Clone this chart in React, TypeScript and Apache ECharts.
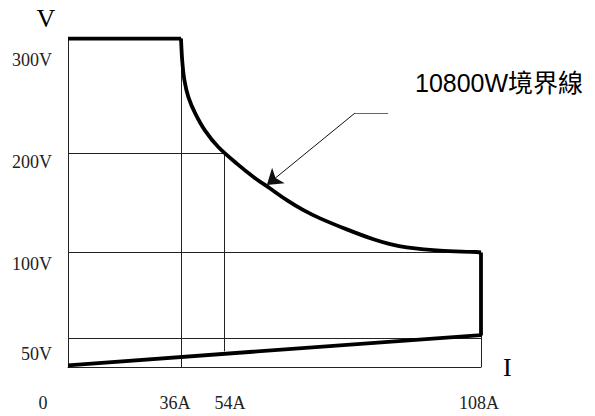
import { useEffect, useRef } from 'react';
import * as echarts from 'echarts';

// ---- tick labels ----
const xTickValues = [0, 36, 54, 108];
const xTickLabels = ['0', '36A', '54A', '108A'];
const yTickValues = [50, 100, 200, 300];
const yTickLabels = ['50V', '100V', '200V', '300V'];

// ---- boundary data (current A, voltage V) ----
const constVoltageI = [0, 36];
const constVoltageV = [300, 300];
const powerCurveI = [36, 36.5, 37.4, 39.1, 41.9, 46, 51.6, 56.7, 60.2, 63.7, 67.2, 70.7, 74.2, 79.8, 85.4, 88.9, 92.4, 99.4, 107.1, 108];
const powerCurveV = [300, 281, 264, 249, 235, 220, 205.5, 189.6, 176.2, 164.5, 152.8, 142.7, 134.4, 123.3, 113.3, 108.5, 105.2, 101.8, 100.5, 100];
const lowerBoundI = [108, 108, 0];
const lowerBoundV = [100, 52, 3];

// ---- thin reference lines (A, V) ----
const refLineI = [[0, 54], [0, 108], [0, 108], [36, 36], [54, 54], [108, 108]];
const refLineV = [[200, 200], [100, 100], [50, 50], [0, 300], [27.5, 200], [0, 52]];

// ---- annotation ----
const annotationText = '10800W境界線';
const leaderShelfI = [88.5, 81.5];
const leaderShelfV = [235, 235];
const leaderArrowI = [81.5, 63];
const leaderArrowV = [235, 168];

// schematic (non-uniform) scale of the drawing: value -> axis units
const xScaleKnots = [[0, 0], [36, 113], [54, 156], [108, 413]];
const yScaleKnots = [[0, 0], [50, 28.5], [100, 114.5], [200, 213.7], [300, 328.5]];

function interp(knots: number[][], v: number): number {
  for (let i = 0; i < knots.length - 1; i++) {
    const [a0, b0] = knots[i];
    const [a1, b1] = knots[i + 1];
    if (v <= a1 || i === knots.length - 2) {
      return b0 + ((v - a0) / (a1 - a0)) * (b1 - b0);
    }
  }
  return 0;
}
const sx = (a: number) => interp(xScaleKnots, a);
const sy = (v: number) => interp(yScaleKnots, v);
const pts = (I: number[], V: number[]) => I.map((a, i) => [sx(a), sy(V[i])]);

const SERIF = '"Liberation Serif", "Times New Roman", serif';
const labelColor = '#222';

export default function App() {
  const ref = useRef<HTMLDivElement>(null);
  useEffect(() => {
    if (!ref.current) return;
    const chart = echarts.init(ref.current, undefined, { renderer: 'svg' });

    const xRich: any = {};
    const xPads = [[0, 50, 0, 0], [0, 12, 0, 0], [0, 0, 0, 12], [0, 4, 0, 0]];
    xPads.forEach((p, i) => {
      xRich['x' + i] = { padding: p, fontFamily: SERIF, fontSize: 18, color: labelColor };
    });
    const yRich: any = {};
    const yPads = [[30, 0, 0, 0], [22, 0, 0, 0], [17, 0, 0, 0], [43, 0, 0, 0]];
    yPads.forEach((p, i) => {
      yRich['y' + i] = { padding: p, fontFamily: SERIF, fontSize: 18, color: labelColor };
    });

    const findIdx = (vals: number[], f: (n: number) => number, v: number) =>
      vals.findIndex((t) => Math.abs(f(t) - v) < 0.01);

    const thickStyle = { color: '#000', width: 3.8 };

    chart.setOption({
      animation: false,
      backgroundColor: '#fff',
      grid: { left: 68, top: 38.5, width: 413, height: 328.5, outerBoundsMode: 'none' },
      xAxis: {
        type: 'value',
        min: 0,
        max: sx(108),
        axisLine: { show: true, onZero: false, lineStyle: { color: labelColor, width: 1 } },
        axisTick: { show: false },
        splitLine: { show: false },
        axisLabel: {
          customValues: xTickValues.map(sx),
          margin: 27,
          fontFamily: SERIF,
          fontSize: 18,
          color: labelColor,
          formatter: (v: number) => {
            const i = findIdx(xTickValues, sx, v);
            return i < 0 ? '' : `{x${i}|${xTickLabels[i]}}`;
          },
          rich: xRich,
        },
        name: 'I',
        nameLocation: 'end',
        nameGap: 22,
        nameTextStyle: { fontFamily: SERIF, fontSize: 26, color: '#000', padding: [9, 0, 0, 0] },
      },
      yAxis: {
        type: 'value',
        min: 0,
        max: sy(300),
        axisLine: { show: true, onZero: false, lineStyle: { color: labelColor, width: 1 } },
        axisTick: { show: false },
        splitLine: { show: false },
        axisLabel: {
          customValues: yTickValues.map(sy),
          margin: 16,
          fontFamily: SERIF,
          fontSize: 18,
          color: labelColor,
          formatter: (v: number) => {
            const i = findIdx(yTickValues, sy, v);
            return i < 0 ? '' : `{y${i}|${yTickLabels[i]}}`;
          },
          rich: yRich,
        },
        name: 'V',
        nameLocation: 'end',
        nameGap: 7,
        nameTextStyle: { fontFamily: SERIF, fontSize: 26, color: '#000', padding: [0, 44, 0, 0] },
      },
      series: [
        {
          type: 'lines',
          coordinateSystem: 'cartesian2d',
          silent: true,
          z: 1,
          lineStyle: { color: labelColor, width: 1, opacity: 1, curveness: 0 },
          data: refLineI.map((I, i) => ({ coords: pts(I, refLineV[i]) })),
        },
        {
          type: 'line',
          silent: true,
          z: 3,
          symbol: 'none',
          lineStyle: thickStyle,
          data: pts(constVoltageI, constVoltageV),
        },
        {
          type: 'line',
          silent: true,
          z: 3,
          symbol: 'none',
          smooth: 0.3,
          lineStyle: thickStyle,
          data: pts(powerCurveI, powerCurveV),
        },
        {
          type: 'line',
          silent: true,
          z: 3,
          symbol: 'none',
          lineStyle: thickStyle,
          data: pts(lowerBoundI, lowerBoundV),
        },
        {
          type: 'lines',
          coordinateSystem: 'cartesian2d',
          silent: true,
          z: 4,
          lineStyle: { color: '#666', width: 1.2, opacity: 1, curveness: 0 },
          data: [{ coords: pts(leaderShelfI, leaderShelfV) }],
        },
        {
          type: 'lines',
          coordinateSystem: 'cartesian2d',
          silent: true,
          z: 4,
          symbol: ['none', 'arrow'],
          symbolSize: [7, 15],
          itemStyle: { color: '#000' },
          lineStyle: { color: '#111', width: 1, opacity: 1, curveness: 0 },
          data: [{ coords: pts(leaderArrowI, leaderArrowV) }],
        },
      ],
      graphic: [
        {
          type: 'text',
          x: 415,
          y: 83,
          style: {
            text: annotationText,
            fontFamily: '"Liberation Sans", Arial, "Noto Sans CJK TC", sans-serif',
            fontSize: 25,
            fill: '#000',
            verticalAlign: 'middle',
            align: 'left',
          },
        },
      ],
    });
    return () => chart.dispose();
  }, []);
  return (
    <div
      ref={ref}
      style={{ position: 'absolute', left: 0, top: 0, width: 595, height: 416, background: '#fff' }}
    />
  );
}
